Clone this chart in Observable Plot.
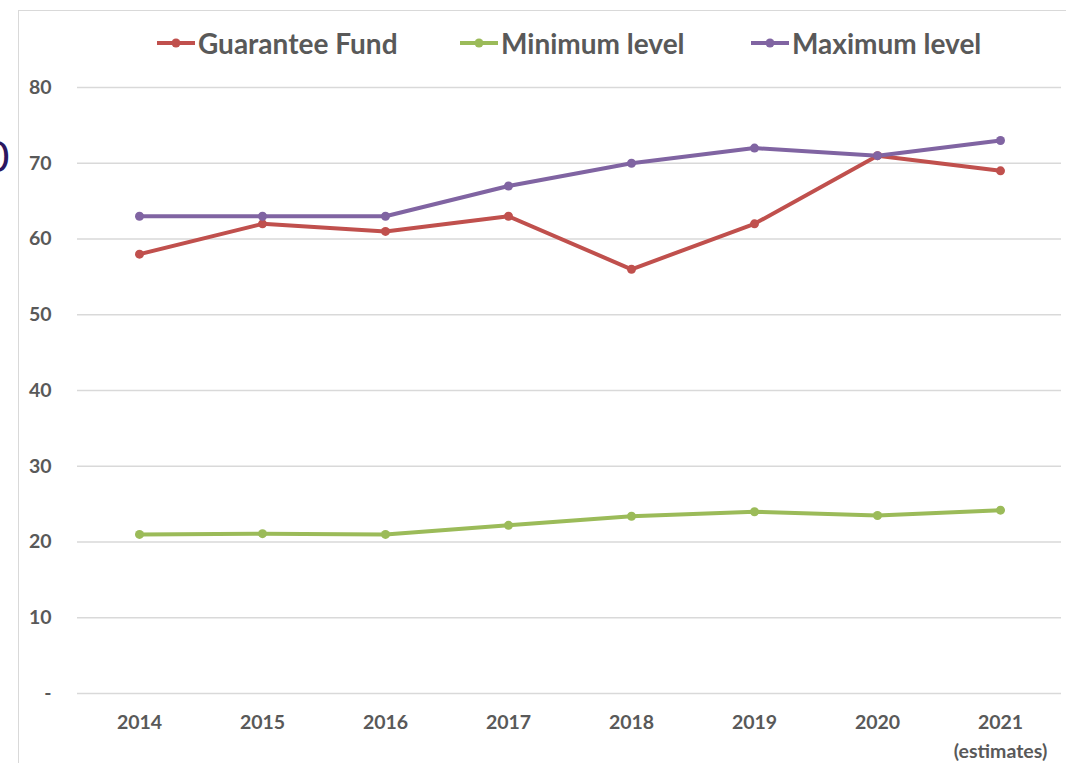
<!DOCTYPE html>
<html><head><meta charset="utf-8">
<script src="https://cdn.jsdelivr.net/npm/d3@7"></script>
<script src="https://cdn.jsdelivr.net/npm/@observablehq/plot@0.6"></script>
<style>
body{margin:0;background:#fff;font-family:Lato,"Open Sans",sans-serif;}
#wrap{position:relative;width:1066px;height:763px;overflow:hidden;background:#fff;}
#frame{position:absolute;left:18px;top:10px;width:1100px;height:800px;border:1.5px solid #d9d9d9;box-sizing:border-box;}
#cut{position:absolute;left:-15px;top:131px;font-size:42px;line-height:50px;color:#2b1760;font-family:Lato,sans-serif;}
.leg{position:absolute;top:26px;display:flex;align-items:center;font-size:28px;font-weight:bold;color:#595959;white-space:nowrap;}
.leg svg{margin-right:3px;}
#chart{position:absolute;left:0;top:70px;}
</style></head>
<body><div id="wrap"><div id="frame"></div><div id="cut">0</div><div id="legend"></div><div id="chart"></div></div>
<script>
const years = ["2014","2015","2016","2017","2018","2019","2020","2021"];
const yearLabels = ["2014","2015","2016","2017","2018","2019","2020","2021\n(estimates)"];
const guaranteeFund = [58, 62, 61, 63, 56, 62, 71, 69];
const minimumLevel = [21.0, 21.1, 21.0, 22.2, 23.4, 24.0, 23.5, 24.2];
const maximumLevel = [63, 63, 63, 67, 70, 72, 71, 73];
const seriesNames = ["Guarantee Fund", "Minimum level", "Maximum level"];
const seriesColors = ["#C0504D", "#9BBB59", "#8064A2"];
const yTicks = [0, 10, 20, 30, 40, 50, 60, 70, 80];

const seriesValues = [guaranteeFund, minimumLevel, maximumLevel];
const data = [];
seriesNames.forEach((s, i) => years.forEach((y, j) => data.push({series: s, year: y, value: seriesValues[i][j]})));

// legend
const legLeft = [157, 460, 751];
const legend = document.getElementById("legend");
seriesNames.forEach((s, i) => {
  const d = document.createElement("div");
  d.className = "leg";
  d.style.left = legLeft[i] + "px";
  d.innerHTML = `<svg width="38" height="12"><line x1="0" y1="6" x2="38" y2="6" stroke="${seriesColors[i]}" stroke-width="4"/><circle cx="19" cy="6" r="4.5" fill="${seriesColors[i]}"/></svg><span>${s}</span>`;
  legend.appendChild(d);
});

const labelMap = new Map(years.map((y, i) => [y, yearLabels[i]]));
const chart = Plot.plot({
  width: 1066,
  height: 693,
  marginLeft: 77,
  marginRight: 5,
  marginTop: 17,
  marginBottom: 70,
  x: {type: "point", domain: years, padding: 0.5, axis: null, label: null},
  y: {domain: [0, 80], axis: null, label: null},
  color: {domain: seriesNames, range: seriesColors},
  style: {fontFamily: "Lato, 'Open Sans', sans-serif", background: "transparent"},
  marks: [
    Plot.ruleY(yTicks, {stroke: "#d9d9d9", strokeWidth: 1.3}),
    Plot.axisY(yTicks, {label: null, tickSize: 0, tickPadding: 26, fontSize: 19.5, fontWeight: "bold", fill: "#595959", tickFormat: d => d === 0 ? "-" : String(d)}),
    Plot.axisX(years, {label: null, tickSize: 0, tickPadding: 16, fontSize: 19.5, fontWeight: "bold", fill: "#595959", lineHeight: 1.44, tickFormat: d => labelMap.get(d)}),
    Plot.line(data, {x: "year", y: "value", z: "series", stroke: "series", strokeWidth: 4, curve: "linear"}),
    Plot.dot(data, {x: "year", y: "value", fill: "series", r: 4.5})
  ]
});
document.getElementById("chart").appendChild(chart);
</script></body></html>
